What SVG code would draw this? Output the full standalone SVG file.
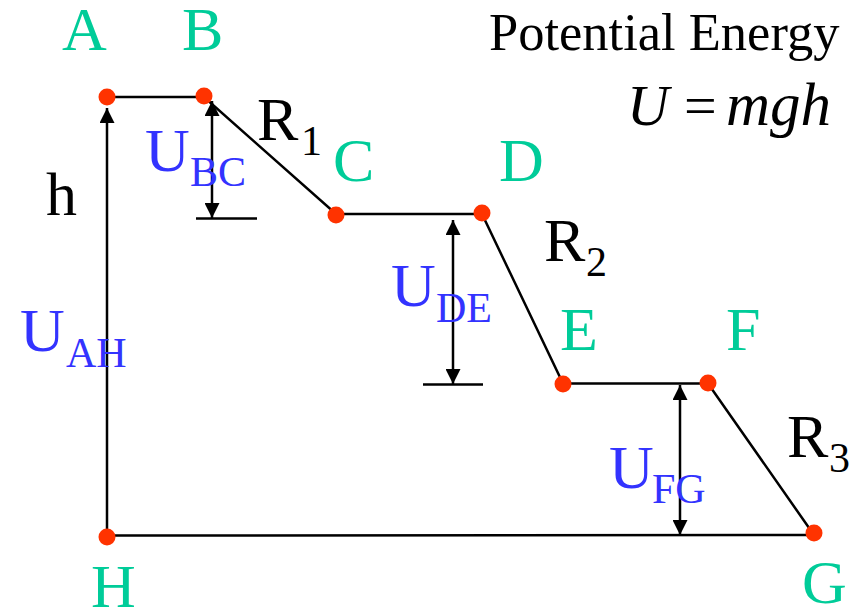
<svg xmlns="http://www.w3.org/2000/svg" width="857" height="613" viewBox="0 0 857 613">
<style>
.pt{fill:#00CC99;font-size:62px;}
.bk{fill:#000000;font-size:62px;}
.bl{fill:#3333FF;font-size:62px;}
.sub{font-size:42px;}
.dot{fill:#FF3300;}
.ln{stroke:#000000;stroke-width:2.5;fill:none;}
</style>
<defs>
<marker id="ah" viewBox="0 0 15 15" refX="15" refY="7.5" markerWidth="15" markerHeight="15" markerUnits="userSpaceOnUse" orient="auto-start-reverse">
<path d="M0,0 L15,7.5 L0,15 z" fill="#000000"/>
</marker>
</defs>
<rect width="857" height="613" fill="#FFFFFF"/>
<g id="connectors">
<polyline class="ln" points="107,97 204,97 336,214 482,214 563,383.5 708,383.5 814,535 107,535.5"/>
<line class="ln" x1="107" y1="537" x2="107" y2="108" marker-end="url(#ah)"/>
<line class="ln" x1="212" y1="101" x2="212" y2="218" marker-start="url(#ah)" marker-end="url(#ah)"/>
<line class="ln" x1="196" y1="218.5" x2="257" y2="218.5"/>
<line class="ln" x1="453" y1="220" x2="453" y2="384" marker-start="url(#ah)" marker-end="url(#ah)"/>
<line class="ln" x1="423" y1="384.5" x2="483" y2="384.5"/>
<line class="ln" x1="680" y1="385" x2="680" y2="535" marker-start="url(#ah)" marker-end="url(#ah)"/>
</g>
<g font-family="Liberation Serif, Times New Roman, serif">
<g id="nodeA"><circle class="dot" cx="107" cy="97" r="8.5"/><text class="pt" x="62" y="50">A</text></g>
<g id="nodeB"><circle class="dot" cx="204" cy="96" r="8.5"/><text class="pt" x="182" y="50">B</text></g>
<g id="nodeC"><circle class="dot" cx="336" cy="215" r="8.5"/><text class="pt" x="333" y="181">C</text></g>
<g id="nodeD"><circle class="dot" cx="482" cy="213" r="8.5"/><text class="pt" x="499" y="181">D</text></g>
<g id="nodeE"><circle class="dot" cx="563" cy="384" r="8.5"/><text class="pt" x="560" y="350">E</text></g>
<g id="nodeF"><circle class="dot" cx="708" cy="383" r="8.5"/><text class="pt" x="726" y="350">F</text></g>
<g id="nodeG"><circle class="dot" cx="814" cy="533" r="8.5"/><text class="pt" x="802" y="603">G</text></g>
<g id="nodeH"><circle class="dot" cx="107" cy="537" r="8.5"/><text class="pt" x="91" y="607">H</text></g>
<g id="labels">
<text class="bk" x="46" y="215">h</text>
<text class="bl" x="20" y="351">U<tspan class="sub" x="66" y="367">AH</tspan></text>
<text class="bl" x="145" y="171">U<tspan class="sub" x="190" y="186">BC</tspan></text>
<text class="bl" x="391" y="306">U<tspan class="sub" x="436" y="322">DE</tspan></text>
<text class="bl" x="609" y="488">U<tspan class="sub" x="652" y="503">FG</tspan></text>
<text class="bk" x="257" y="140">R<tspan class="sub" x="301" y="155">1</tspan></text>
<text class="bk" x="544" y="261">R<tspan class="sub" x="586" y="276">2</tspan></text>
<text class="bk" x="787" y="457">R<tspan class="sub" x="829" y="472">3</tspan></text>
<text x="489" y="50" font-size="52.5" fill="#000000">Potential Energy</text>
<text y="125" font-size="58" fill="#000000"><tspan x="627" font-style="italic">U</tspan><tspan x="684">=</tspan><tspan x="726" font-size="61" font-style="italic">mgh</tspan></text>
</g>
</g>
</svg>
